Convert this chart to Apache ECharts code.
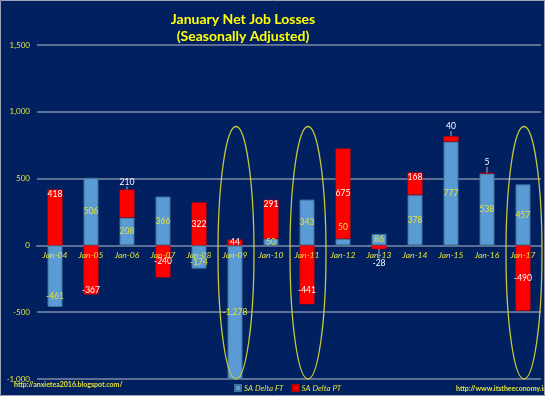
<!DOCTYPE html>
<html><head><meta charset="utf-8">
<script src="https://cdn.jsdelivr.net/npm/echarts@6/dist/echarts.min.js"></script>
<style>html,body{margin:0;padding:0;background:#002060;}#c{width:545px;height:396px;}</style>
</head><body><div id="c"></div>
<script>
const categories = ['Jan-04','Jan-05','Jan-06','Jan-07','Jan-08','Jan-09','Jan-10','Jan-11','Jan-12','Jan-13','Jan-14','Jan-15','Jan-16','Jan-17'];
const ftValues = [-461, 506, 208, 366, -174, -1278, 50, 343, 50, 86, 378, 777, 538, 457];
const ptValues = [418, -367, 210, -240, 322, 44, 291, -441, 675, -28, 168, 40, 5, -490];
const yTicks = [-1000, -500, 0, 500, 1000, 1500];
const circled = ['Jan-09', 'Jan-11', 'Jan-17'];

const YEL = '#E2E23A';
const fmt = v => { const s = Math.abs(v).toLocaleString('en-US'); return (v < 0 ? '-' : '') + s; };

// per-point label style overrides (style only)
const ftLabelStyle = {
  0: {position: 'insideBottom', distance: 6},
  4: {position: 'insideBottom', distance: 2},
  5: {offset: [0, 6]},
  8: {position: 'top', distance: 2, lift: 5},
  11: {offset: [0, -16]}
};
const ptLabelStyle = {
  0: {position: 'insideTop', distance: 0, offset: [0, -3]},
  1: {position: 'insideBottom', distance: 0},
  2: {position: 'top', distance: 3},
  6: {position: 'insideTop', distance: 0, offset: [0, -1]},
  7: {position: 'insideBottom', distance: 10},
  8: {offset: [0, -21]},
  9: {position: 'bottom', distance: 2, lift: 8},
  10: {position: 'insideTop', distance: 0, offset: [0, -6]},
  11: {position: 'top', distance: 2, lift: 3},
  12: {position: 'top', distance: 2, lift: 4}
};

function buildData(values, styles) {
  return values.map((v, i) => {
    const st = styles[i] || {};
    const lab = {};
    if (st.position) lab.position = st.position;
    if (st.distance !== undefined) lab.distance = st.distance;
    if (st.offset) lab.offset = st.offset;
    return {value: v, label: lab, lift: st.lift || 0};
  });
}
const ftData = buildData(ftValues, ftLabelStyle);
const ptData = buildData(ptValues, ptLabelStyle);

const chart = echarts.init(document.getElementById('c'), null, {renderer: 'canvas'});

function layoutFor(data) {
  return function (p) {
    const d = data[p.dataIndex];
    if (d && d.lift) {
      const dir = d.value < 0 ? 1 : -1;
      return {dy: dir * d.lift};
    }
    return {};
  };
}

const option = {
  backgroundColor: '#002060',
  animation: false,
  title: {
    text: 'January Net Job Losses\n(Seasonally Adjusted)',
    left: 238, top: 6, textAlign: 'center',
    textStyle: {color: '#FFFF00', fontFamily: 'Lato', fontWeight: 'bold', fontSize: 14, lineHeight: 17}
  },
  grid: {left: 37, right: 4, top: 45, bottom: 17, containLabel: false},
  legend: {
    left: 229, top: 379, itemWidth: 6, itemHeight: 6, itemGap: 8, icon: 'rect',
    textStyle: {color: YEL, fontStyle: 'italic', fontSize: 8, fontFamily: 'Lato', padding: [0,0,0,-2]},
    data: ['SA Delta FT', 'SA Delta PT']
  },
  xAxis: {
    type: 'category', data: categories,
    axisLine: {onZero: true, lineStyle: {color: '#5E6F96', width: 2}},
    axisTick: {show: false},
    axisLabel: {show: false},
    splitLine: {show: false}
  },
  yAxis: {
    type: 'value', min: yTicks[0], max: yTicks[yTicks.length - 1], interval: 500,
    axisLine: {show: false}, axisTick: {show: false},
    axisLabel: {color: YEL, fontSize: 8, fontFamily: 'Lato', margin: 7, formatter: v => fmt(v)},
    splitLine: {lineStyle: {color: '#5E6F96', width: 2}}
  },
  series: [
    {
      name: 'SA Delta FT', type: 'bar', stack: 'jobs', barWidth: 15,
      data: ftData,
      itemStyle: {color: '#5B9BD5', borderColor: '#41719C', borderWidth: 1},
      label: {show: true, position: 'inside', color: YEL, fontSize: 8.5, fontFamily: 'Lato', formatter: p => fmt(p.value)},
      labelLine: {show: true, lineStyle: {color: '#B0B0B0', width: 1}},
      labelLayout: layoutFor(ftData)
    },
    {
      name: 'SA Delta PT', type: 'bar', stack: 'jobs', barWidth: 15,
      data: ptData,
      itemStyle: {color: '#FF0000', borderColor: '#C00000', borderWidth: 0.5},
      label: {show: true, position: 'inside', color: '#FFFFFF', fontSize: 8.5, fontFamily: 'Lato', formatter: p => fmt(p.value)},
      labelLine: {show: true, lineStyle: {color: '#B0B0B0', width: 1}},
      labelLayout: layoutFor(ptData)
    }
  ]
};
chart.setOption(option);

// category labels next to the zero line, ellipses, footer texts, border
const gfx = [];
categories.forEach(c => {
  const p = chart.convertToPixel({gridIndex: 0}, [c, 0]);
  gfx.push({
    type: 'text', silent: true, x: p[0], y: p[1] + 5,
    style: {text: c, fill: YEL, font: 'italic 8.5px Lato', align: 'center', verticalAlign: 'top'}, z: 5
  });
});
circled.forEach(c => {
  const top = chart.convertToPixel({gridIndex: 0}, [c, 890]);
  const bot = chart.convertToPixel({gridIndex: 0}, [c, -1000]);
  gfx.push({
    type: 'ellipse', silent: true,
    shape: {cx: top[0] + 1, cy: (top[1] + bot[1]) / 2, rx: 18, ry: (bot[1] - top[1]) / 2},
    style: {fill: null, stroke: '#C8C83A', lineWidth: 1.3}, z: 10
  });
});
gfx.push({type: 'text', x: 14, y: 381, style: {text: 'http://anxietea2016.blogspot.com/', fill: YEL, font: 'bold 7px Lato'}, z: 10});
gfx.push({type: 'text', x: 456, y: 385, style: {text: 'http://www.itstheeconomy.info/', fill: YEL, font: 'bold 7px Lato'}, z: 10});
gfx.push({type: 'rect', silent: true, shape: {x: 0.5, y: 0.5, width: 544, height: 395}, style: {fill: null, stroke: '#9AA3B8', lineWidth: 1}, z: 20});
chart.setOption({graphic: gfx});
</script></body></html>
